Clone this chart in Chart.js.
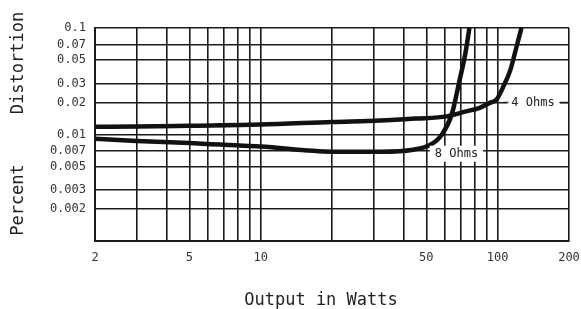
<!DOCTYPE html>
<html>
<head>
<meta charset="utf-8">
<script src="https://cdn.jsdelivr.net/npm/chart.js@4.4.0/dist/chart.umd.min.js"></script>
<style>
  html, body { margin: 0; padding: 0; background: #fff; }
  #wrap { width: 581px; height: 309px; position: relative; }
</style>
</head>
<body>
<div id="wrap"><canvas id="distChart"></canvas></div>
<script>
// axis ticks
const wattTicks = [2, 3, 4, 5, 6, 7, 8, 9, 10, 20, 30, 40, 50, 60, 70, 80, 90, 100, 200];
const wattLabels = [2, 5, 10, 50, 100, 200];
const distTicks = [0.001, 0.002, 0.003, 0.005, 0.007, 0.01, 0.02, 0.03, 0.05, 0.07, 0.1];
const distLabels = [0.002, 0.003, 0.005, 0.007, 0.01, 0.02, 0.03, 0.05, 0.07, 0.1];

// 4 ohm curve
const watts4 = [2, 3, 5, 10, 20, 32, 45, 61, 72, 84, 92, 99, 106, 113, 120, 126];
const dist4 = [0.0118, 0.0119, 0.0121, 0.0124, 0.0131, 0.0135, 0.0141, 0.0148, 0.0163, 0.0178, 0.0197, 0.0214, 0.0286, 0.040, 0.066, 0.1];

// 8 ohm curve
const watts8 = [2, 3, 5, 10, 20, 32, 44, 52, 58, 64, 69, 73, 76];
const dist8 = [0.0091, 0.0087, 0.0083, 0.0077, 0.0069, 0.0069, 0.0072, 0.0080, 0.0099, 0.0154, 0.032, 0.057, 0.1];

// curve labels (watts, distortion)
const curveNames = ['4 Ohms', '8 Ohms'];
const labelWatts = [141, 67];
const labelDist = [0.02, 0.0066];

const monoFont = '"DejaVu Sans Mono", monospace';

const pairs = (xs, ys) => xs.map((x, i) => ({ x: x, y: ys[i] }));

const labelPlugin = {
  id: 'labels',
  afterDatasetsDraw(chart) {
    const { ctx, scales } = chart;
    ctx.save();
    ctx.font = '12px ' + monoFont;
    ctx.textAlign = 'center';
    ctx.textBaseline = 'middle';
    curveNames.forEach((name, i) => {
      const px = scales.x.getPixelForValue(labelWatts[i]);
      const py = scales.y.getPixelForValue(labelDist[i]);
      const w = ctx.measureText(name).width;
      ctx.fillStyle = '#fff';
      ctx.fillRect(px - w / 2 - 5, py - 8, w + 10, 16);
      ctx.fillStyle = '#222';
      ctx.fillText(name, px, py);
    });
    // little dashes either side of the 4 ohm label
    const px4 = scales.x.getPixelForValue(labelWatts[0]);
    const py4 = scales.y.getPixelForValue(labelDist[0]);
    const w4 = ctx.measureText(curveNames[0]).width;
    ctx.strokeStyle = '#222';
    ctx.lineWidth = 1.5;
    ctx.beginPath();
    ctx.moveTo(px4 - w4 / 2 - 7, py4);
    ctx.lineTo(px4 - w4 / 2 - 3, py4);
    ctx.moveTo(px4 + w4 / 2 + 5, py4);
    ctx.lineTo(chart.chartArea.right, py4);
    ctx.stroke();

    // axis titles
    ctx.fillStyle = '#222';
    ctx.font = '17px ' + monoFont;
    ctx.fillText('Output in Watts', 321, 301);
    ctx.translate(19, 0);
    ctx.rotate(-Math.PI / 2);
    ctx.fillText('Distortion', -63, 0);
    ctx.fillText('Percent', -200, 0);
    ctx.restore();
  }
};

const ctx = document.getElementById('distChart').getContext('2d');
const chart = new Chart(ctx, {
  type: 'line',
  data: {
    datasets: [
      {
        label: curveNames[0],
        data: pairs(watts4, dist4),
        borderColor: '#111',
        borderWidth: 4.5,
        pointRadius: 0,
        cubicInterpolationMode: 'monotone',
        fill: false
      },
      {
        label: curveNames[1],
        data: pairs(watts8, dist8),
        borderColor: '#111',
        borderWidth: 4.5,
        pointRadius: 0,
        cubicInterpolationMode: 'monotone',
        fill: false
      }
    ]
  },
  options: {
    responsive: true,
    maintainAspectRatio: false,
    animation: false,
    layout: { padding: { left: 0, right: 12, top: 28, bottom: 0 } },
    plugins: { legend: { display: false }, tooltip: { enabled: false } },
    scales: {
      x: {
        type: 'logarithmic',
        min: 2,
        max: 200,
        afterBuildTicks: (s) => { s.ticks = wattTicks.map(v => ({ value: v })); },
        afterFit: (s) => { s.height = 68; s.paddingLeft = 0; s.paddingRight = 0; },
        ticks: {
          autoSkip: false,
          maxRotation: 0,
          padding: 10,
          color: '#333',
          font: { family: monoFont, size: 12 },
          callback: (v) => wattLabels.includes(v) ? String(v) : ''
        },
        grid: { color: '#1a1a1a', lineWidth: 1.6, drawTicks: false },
        border: { color: '#1a1a1a', width: 2 }
      },
      y: {
        type: 'logarithmic',
        min: 0.001,
        max: 0.1,
        afterBuildTicks: (s) => { s.ticks = distTicks.map(v => ({ value: v })); },
        afterFit: (s) => { s.width = 95; s.paddingTop = 0; s.paddingBottom = 0; },
        ticks: {
          autoSkip: false,
          padding: 9,
          color: '#333',
          font: { family: monoFont, size: 12 },
          callback: (v) => distLabels.includes(v) ? String(v) : ''
        },
        grid: { color: '#1a1a1a', lineWidth: 1.6, drawTicks: false },
        border: { color: '#1a1a1a', width: 2 }
      }
    }
  },
  plugins: [labelPlugin]
});
</script>
</body>
</html>
